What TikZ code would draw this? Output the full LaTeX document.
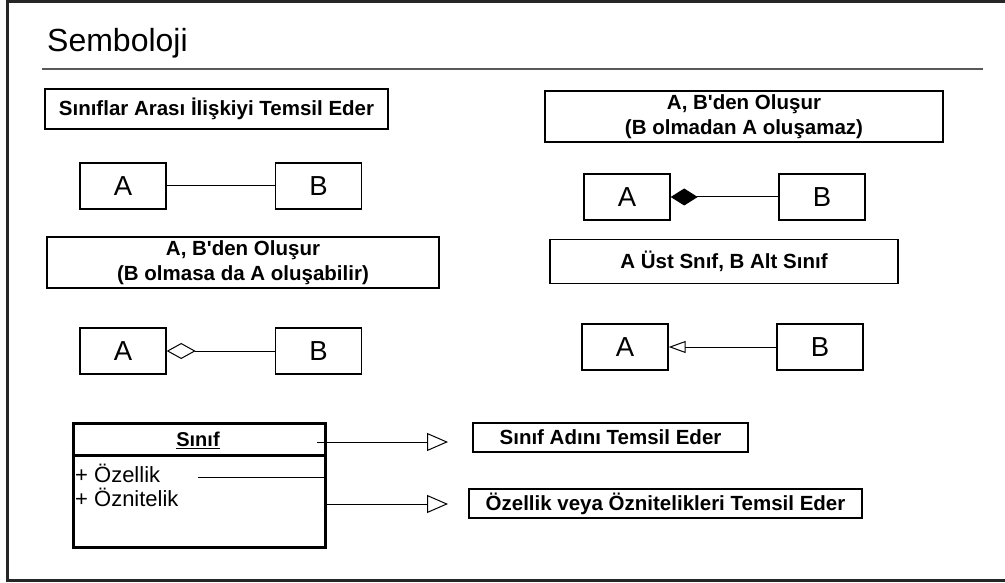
\documentclass[tikz,border=0pt]{standalone}
\usepackage{fontspec}
\setmainfont[Ligatures=TeXOff]{Liberation Sans}
\usetikzlibrary{arrows.meta}
\begin{document}
\begin{tikzpicture}[x=1pt,y=-1pt,
  note/.style={draw=black, line width=1.4pt, align=center, inner sep=0pt,
    font=\fontsize{20.5}{25}\selectfont\bfseries},
  notethick/.style={note, line width=2pt},
  cbox/.style={draw=black, line width=1.4pt, minimum width=86pt, minimum height=46pt,
    inner sep=0pt, font=\fontsize{27.5}{30}\selectfont},
  link/.style={draw=black, line width=1pt},
  compo/.style={link, {Diamond[length=27pt,width=17pt,fill=black]}-},
  aggr/.style={link, {Diamond[open,length=29pt,width=16pt,line width=1pt]}-},
  inher/.style={link, -{Triangle[open,length=17pt,width=12pt,line width=1pt]}},
  pointer/.style={link, -{Triangle[open,length=21pt,width=18pt,line width=1pt]}},
]
\useasboundingbox (0,0) rectangle (1005,583);

% outer frame (its right side lies past the page edge)
\draw[line width=3pt, black!85] (1010,1.5) -- (7,1.5) -- (7,580) -- (1010,580);

% heading and rule
\node[anchor=base west, inner sep=0pt, font=\fontsize{32}{36}\selectfont] (title) at (47,52) {Semboloji};
\draw[black!65, line width=1.6pt] (42,69) -- (983,69);

% association
\node[note, minimum width=343pt, minimum height=40pt] (n1) at (216.5,109) {Sınıflar Arası İlişkiyi Temsil Eder};
\node[cbox] (a1) at (123,186) {A};
\node[cbox] (b1) at (318.5,186) {B};
\draw[link] (a1) -- (b1);

% composition
\node[note, minimum width=398pt, minimum height=51pt] (n2) at (744,116.5) {A, B'den Oluşur\\(B olmadan A oluşamaz)};
\node[cbox] (a2) at (627,197) {A};
\node[cbox] (b2) at (822,197) {B};
\draw[compo] (a2) -- (b2);

% aggregation
\node[note, minimum width=392pt, minimum height=51pt] (n3) at (243,262.5) {A, B'den Oluşur\\(B olmasa da A oluşabilir)};
\node[cbox] (a3) at (123,351) {A};
\node[cbox] (b3) at (318.5,351) {B};
\draw[aggr] (a3) -- (b3);

% generalisation
\node[note, minimum width=348pt, minimum height=44pt] (n4) at (724,261.5) {A Üst Snıf, B Alt Sınıf};
\node[cbox] (a4) at (625,347) {A};
\node[cbox] (b4) at (820,347) {B};
\draw[inher] (b4) -- (a4);

% class notation
\node[draw=black, line width=3pt, minimum width=252pt, minimum height=124pt, inner sep=0pt] (cls) at (199,485) {};
\draw[line width=3pt] (cls.west |- 0,455) -- (cls.east |- 0,455);
\node[inner sep=0pt, font=\fontsize{20}{24}\selectfont\bfseries] (hdr) at (198,440) {\underline{Sınıf}};
\node[anchor=west, align=left, inner sep=0pt, font=\fontsize{22}{24}\selectfont] (attr) at (75,485) {+ Özellik\\+ Öznitelik};

\node[notethick, minimum width=275pt, minimum height=29pt] (n5) at (610.5,437.5) {Sınıf Adını Temsil Eder};
\node[notethick, minimum width=393pt, minimum height=29pt] (n6) at (665.5,503.5) {Özellik veya Öznitelikleri Temsil Eder};

\coordinate (h1) at (317,442);
\coordinate (t1) at (448,442);
\draw[pointer] (h1) -- (t1);

\coordinate (o1) at (198,477);
\draw[link] (o1) -- (o1 -| cls.east);

\coordinate (h2) at (cls.east |- 0,504);
\coordinate (t2) at (448,504);
\draw[pointer] (h2) -- (t2);
\end{tikzpicture}
\end{document}
